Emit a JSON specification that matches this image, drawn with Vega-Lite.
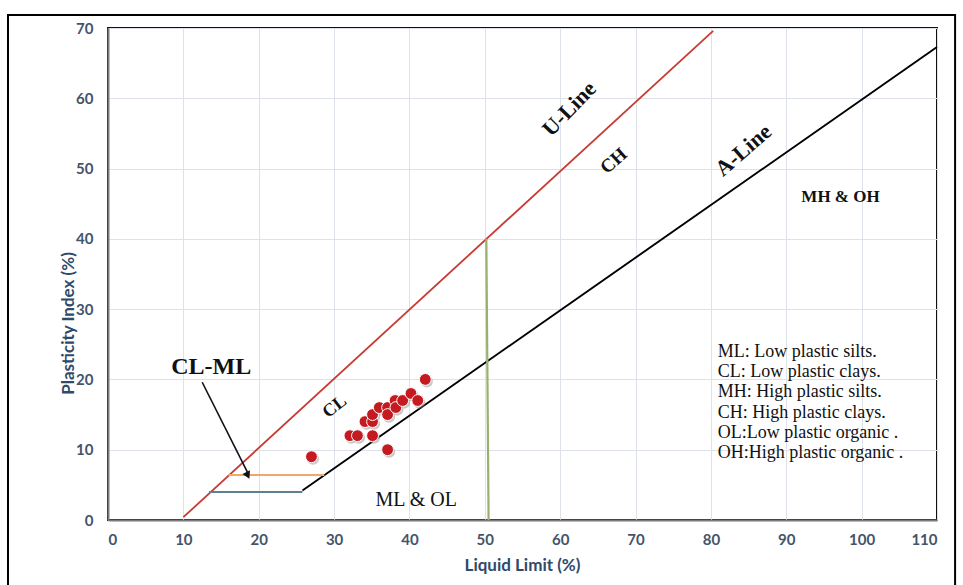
{
  "$schema": "https://vega.github.io/schema/vega-lite/v6.json",
  "autosize": {"type": "none"},
  "padding": {"left": 108, "top": 28, "right": 26, "bottom": 65},
  "width": 829,
  "height": 492,
  "background": "white",
  "config": {
    "view": {"stroke": "#111111", "strokeWidth": 2},
    "axis": {
      "grid": true,
      "gridColor": "#dde1ea",
      "gridWidth": 1,
      "ticks": false,
      "domainColor": "#7a7a7a",
      "domainWidth": 2,
      "labelFont": "Lato",
      "labelFontWeight": "bold",
      "labelFontSize": 15,
      "labelColor": "#44546a",
      "titleFont": "Lato",
      "titleFontSize": 17,
      "titleFontWeight": "bold",
      "titleColor": "#2f4a6b"
    }
  },
  "layer": [
    {
      "data": {"values": [{}]},
      "mark": {"type": "rect", "fill": null, "stroke": "#000000", "strokeWidth": 2},
      "encoding": {
        "x": {"datum": -13.27, "type": "quantitative", "scale": {"domain": [0, 110], "nice": false}, "axis": {"values": [0,10,20,30,40,50,60,70,80,90,100,110], "title": "Liquid Limit (%)", "labelPadding": 12, "titleX": 414, "titleY": 45, "titleBaseline": "middle"}},
        "x2": {"datum": 112.4},
        "y": {"datum": 71.85, "type": "quantitative", "scale": {"domain": [0, 70], "nice": false}, "axis": {"values": [0,10,20,30,40,50,60,70], "title": "Plasticity Index (%)", "labelPadding": 15, "titleX": -40, "titleY": 295, "titleBaseline": "middle", "titleAlign": "center", "titleAngle": -90}},
        "y2": {"datum": -10.2}
      }
    },
    {
      "data": {"values": [
        {"line": "U", "ord": 1, "LL": 10.0, "PI": 0.4},
        {"line": "U", "ord": 2, "LL": 80.3, "PI": 69.6},
        {"line": "A", "ord": 1, "LL": 25.8, "PI": 4.2},
        {"line": "A", "ord": 2, "LL": 110.0, "PI": 67.3},
        {"line": "B", "ord": 1, "LL": 13.4, "PI": 4.0},
        {"line": "B", "ord": 2, "LL": 25.8, "PI": 4.0},
        {"line": "O", "ord": 1, "LL": 16.0, "PI": 6.4},
        {"line": "O", "ord": 2, "LL": 28.7, "PI": 6.4},
        {"line": "G", "ord": 1, "LL": 50.2, "PI": 40.0},
        {"line": "G", "ord": 2, "LL": 50.5, "PI": 0.0}
      ]},
      "mark": {"type": "line"},
      "encoding": {
        "x": {"field": "LL", "type": "quantitative"},
        "y": {"field": "PI", "type": "quantitative"},
        "order": {"field": "ord"},
        "detail": {"field": "line"},
        "color": {"field": "line", "type": "nominal", "legend": null, "scale": {"domain": ["U", "A", "B", "O", "G"], "range": ["#c73b33", "#000000", "#5f7f95", "#f0a868", "#9bb070"]}},
        "strokeWidth": {"field": "line", "type": "nominal", "legend": null, "scale": {"domain": ["U", "A", "B", "O", "G"], "range": [1.8, 2.2, 1.3, 1.6, 1.4]}}
      }
    },
    {
      "data": {"values": [{}]},
      "mark": {"type": "rule", "color": "#111111", "strokeWidth": 1.6},
      "encoding": {
        "x": {"datum": 12.5}, "y": {"datum": 19.6},
        "x2": {"datum": 18.6}, "y2": {"datum": 6.6}
      }
    },
    {
      "data": {"values": [{}]},
      "mark": {"type": "point", "shape": "triangle-down", "filled": true, "color": "#111111", "size": 70, "angle": -25.6, "opacity": 1},
      "encoding": {"x": {"datum": 18.55}, "y": {"datum": 6.35}}
    },
    {
      "data": {"name": "soil"},
      "mark": {"type": "point", "filled": true, "color": "#8a8a8a", "opacity": 0.45, "size": 150, "xOffset": 1.5, "yOffset": 2},
      "encoding": {
        "x": {"field": "LL", "type": "quantitative"},
        "y": {"field": "PI", "type": "quantitative"}
      }
    },
    {
      "data": {"name": "soil"},
      "mark": {"type": "point", "filled": true, "color": "#c51a1f", "stroke": "#ffffff", "strokeWidth": 1, "opacity": 1, "size": 140},
      "encoding": {
        "x": {"field": "LL", "type": "quantitative"},
        "y": {"field": "PI", "type": "quantitative"}
      }
    },
    {
      "data": {"values": [{}]},
      "mark": {"type": "text", "text": "CL-ML", "font": "Liberation Serif", "fontWeight": "bold", "fontSize": 24, "color": "#111111", "align": "center", "baseline": "middle"},
      "encoding": {"x": {"datum": 13.7}, "y": {"datum": 21.7}}
    },
    {
      "data": {"values": [{}]},
      "mark": {"type": "text", "text": "CL", "font": "Liberation Serif", "fontWeight": "bold", "fontSize": 18, "color": "#111111", "align": "center", "baseline": "middle", "angle": -38},
      "encoding": {"x": {"datum": 30.1}, "y": {"datum": 16.1}}
    },
    {
      "data": {"values": [{}]},
      "mark": {"type": "text", "text": "U-Line", "font": "Liberation Serif", "fontWeight": "bold", "fontSize": 22, "color": "#111111", "align": "center", "baseline": "middle", "angle": -46},
      "encoding": {"x": {"datum": 61.2}, "y": {"datum": 58.5}}
    },
    {
      "data": {"values": [{}]},
      "mark": {"type": "text", "text": "CH", "font": "Liberation Serif", "fontWeight": "bold", "fontSize": 19, "color": "#111111", "align": "center", "baseline": "middle", "angle": -42},
      "encoding": {"x": {"datum": 67.1}, "y": {"datum": 51.1}}
    },
    {
      "data": {"values": [{}]},
      "mark": {"type": "text", "text": "A-Line", "font": "Liberation Serif", "fontWeight": "bold", "fontSize": 22, "color": "#111111", "align": "center", "baseline": "middle", "angle": -41},
      "encoding": {"x": {"datum": 84.3}, "y": {"datum": 52.6}}
    },
    {
      "data": {"values": [{}]},
      "mark": {"type": "text", "text": "MH & OH", "font": "Liberation Serif", "fontWeight": "bold", "fontSize": 17, "color": "#111111", "align": "center", "baseline": "middle"},
      "encoding": {"x": {"datum": 97.2}, "y": {"datum": 45.9}}
    },
    {
      "data": {"values": [{}]},
      "mark": {"type": "text", "text": "ML & OL", "font": "Liberation Serif", "fontSize": 20, "color": "#111111", "align": "center", "baseline": "middle"},
      "encoding": {"x": {"datum": 40.9}, "y": {"datum": 2.8}}
    },
    {
      "data": {"values": [{}]},
      "mark": {"type": "text", "text": ["ML: Low plastic silts.", "CL: Low plastic clays.", "MH: High plastic silts.", "CH: High plastic clays.", "OL:Low plastic organic .", "OH:High plastic organic ."], "font": "Liberation Serif", "fontSize": 18, "lineHeight": 20.2, "color": "#111111", "align": "left", "baseline": "middle"},
      "encoding": {"x": {"datum": 80.9}, "y": {"datum": 23.9}}
    }
  ],
  "datasets": {
    "soil": [
      {"LL": 27.0, "PI": 9.0},
      {"LL": 32.1, "PI": 12.0},
      {"LL": 33.1, "PI": 12.0},
      {"LL": 35.1, "PI": 12.0},
      {"LL": 34.1, "PI": 14.0},
      {"LL": 35.1, "PI": 14.0},
      {"LL": 35.1, "PI": 15.0},
      {"LL": 36.0, "PI": 16.0},
      {"LL": 37.1, "PI": 16.0},
      {"LL": 37.1, "PI": 15.0},
      {"LL": 38.1, "PI": 17.0},
      {"LL": 38.2, "PI": 16.0},
      {"LL": 39.1, "PI": 17.0},
      {"LL": 40.2, "PI": 18.0},
      {"LL": 41.1, "PI": 17.0},
      {"LL": 42.1, "PI": 20.0},
      {"LL": 37.1, "PI": 10.0}
    ]
  }
}
